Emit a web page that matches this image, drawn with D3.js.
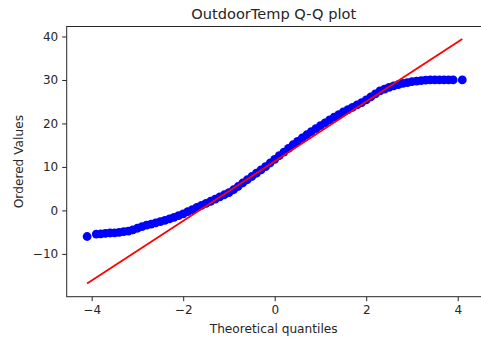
<!DOCTYPE html>
<html>
<head>
<meta charset="utf-8">
<script src="https://cdn.jsdelivr.net/npm/d3@7"></script>
<style>
html, body { margin: 0; padding: 0; background: #fff; }
svg { display: block; }
text { font-family: "DejaVu Sans", sans-serif; fill: #262626; }
</style>
</head>
<body>
<svg id="chart" width="481" height="340"></svg>
<script>
// Theoretical quantiles (x) of the plotted points
const quantiles = [-4.1,
  -3.9, -3.8, -3.7, -3.6, -3.5, -3.4, -3.3, -3.2, -3.1, -3.0,
  -2.9, -2.8, -2.7, -2.6, -2.5, -2.4, -2.3, -2.2, -2.1, -2.0,
  -1.9, -1.8, -1.7, -1.6, -1.5, -1.4, -1.3, -1.2, -1.1, -1.0,
  -0.9, -0.8, -0.7, -0.6, -0.5, -0.4, -0.3, -0.2, -0.1, 0.0,
  0.1, 0.2, 0.3, 0.4, 0.5, 0.6, 0.7, 0.8, 0.9, 1.0,
  1.1, 1.2, 1.3, 1.4, 1.5, 1.6, 1.7, 1.8, 1.9, 2.0,
  2.1, 2.2, 2.3, 2.4, 2.5, 2.6, 2.7, 2.8, 2.9, 3.0,
  3.1, 3.2, 3.3, 3.4, 3.5, 3.6, 3.7, 3.8, 3.9,
  4.1];
// Ordered values (y)
const orderedValues = [-6.0,
  -5.45, -5.4, -5.3, -5.2, -5.15, -5.05, -4.9, -4.75, -4.5, -4.1,
  -3.75, -3.4, -3.15, -2.85, -2.6, -2.3, -1.95, -1.6, -1.2, -0.8,
  -0.3, 0.2, 0.7, 1.15, 1.6, 2.1, 2.6, 3.1, 3.6, 4.1,
  4.75, 5.5, 6.3, 7.05, 7.8, 8.55, 9.3, 10.05, 10.9, 11.75,
  12.6, 13.4, 14.25, 15.1, 15.9, 16.65, 17.4, 18.1, 18.8, 19.5,
  20.15, 20.8, 21.45, 22.05, 22.65, 23.2, 23.7, 24.25, 24.8, 25.4,
  26.1, 26.8, 27.5, 27.9, 28.3, 28.65, 28.95, 29.2, 29.4, 29.6,
  29.75, 29.85, 29.95, 30.0, 30.0, 30.0, 30.0, 30.0, 30.0,
  30.0];
// Least-squares fit line endpoints
const fitQuantiles = [-4.1, 4.1];
const fitValues = [-16.8, 39.4];

const xTicks = [-4, -2, 0, 2, 4];
const yTicks = [-10, 0, 10, 20, 30, 40];

const title = "OutdoorTemp Q-Q plot";
const xLabel = "Theoretical quantiles";
const yLabel = "Ordered Values";

(function () {
const svg = d3.select("#chart");
const L = 66.7, R = 482.7, T = 26.5, B = 296.7;

const x = d3.scaleLinear().domain([-4.546, 4.546]).range([L, R]);
const y = d3.scaleLinear().domain([-19.85, 42.3]).range([B, T]);

const fmt = d => (d < 0 ? "\u2212" + Math.abs(d) : String(d));

// Points
const pts = quantiles.map((q, i) => ({ q, v: orderedValues[i] }));
svg.append("g")
  .selectAll("circle")
  .data(pts)
  .join("circle")
  .attr("cx", d => x(d.q))
  .attr("cy", d => y(d.v))
  .attr("r", 4.4)
  .attr("fill", "#0000ff");

// Fit line
const fit = fitQuantiles.map((q, i) => ({ q, v: fitValues[i] }));
svg.append("path")
  .datum(fit)
  .attr("fill", "none")
  .attr("stroke", "#ff0000")
  .attr("stroke-width", 1.8)
  .attr("d", d3.line().x(d => x(d.q)).y(d => y(d.v)));

// Axes
const xAxis = d3.axisBottom(x).tickValues(xTicks).tickFormat(fmt).tickSizeOuter(0).tickSize(4.5).tickPadding(4);
const yAxis = d3.axisLeft(y).tickValues(yTicks).tickFormat(fmt).tickSizeOuter(0).tickSize(4.5).tickPadding(4);

const gx = svg.append("g").attr("transform", `translate(0,${B})`).call(xAxis);
const gy = svg.append("g").attr("transform", `translate(${L},0)`).call(yAxis);
[gx, gy].forEach(g => {
  g.select(".domain").remove();
  g.selectAll(".tick line").attr("stroke", "#262626").attr("stroke-width", 1);
  g.selectAll(".tick text").attr("fill", "#262626").style("font-size", "12px").style("font-family", "DejaVu Sans");
});

// Spines
svg.append("rect").attr("x", L).attr("y", T).attr("width", R - L).attr("height", B - T)
  .attr("fill", "none").attr("stroke", "#262626").attr("stroke-width", 1);

// Labels
svg.append("text").attr("x", (L + R) / 2 - 1).attr("y", 19).attr("text-anchor", "middle")
  .style("font-size", "14.6px").text(title);
svg.append("text").attr("x", (L + R) / 2 - 1).attr("y", 332.5).attr("text-anchor", "middle")
  .style("font-size", "12.2px").text(xLabel);
svg.append("text").attr("transform", `translate(22.5,${(T + B) / 2}) rotate(-90)`).attr("text-anchor", "middle")
  .style("font-size", "12.2px").text(yLabel);
})();
</script>
</body>
</html>
